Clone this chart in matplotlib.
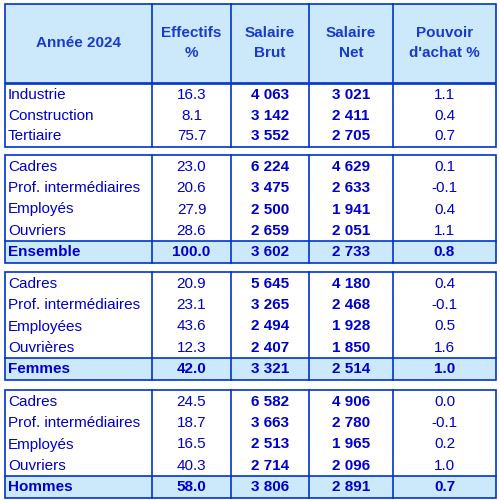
import matplotlib
matplotlib.use("Agg")
import matplotlib.pyplot as plt
from matplotlib.patches import Rectangle

plt.rcParams['font.family'] = ['Liberation Sans', 'DejaVu Sans']

headers = ["Année 2024", "Effectifs\n%", "Salaire\nBrut", "Salaire\nNet", "Pouvoir\nd'achat %"]
g1_labels = ["Industrie", "Construction", "Tertiaire"]
g1_eff = ["16.3", "8.1", "75.7"]
g1_brut = ["4 063", "3 142", "3 552"]
g1_net = ["3 021", "2 411", "2 705"]
g1_pa = ["1.1", "0.4", "0.7"]

g2_labels = ["Cadres", "Prof. intermédiaires", "Employés", "Ouvriers", "Ensemble"]
g2_eff = ["23.0", "20.6", "27.9", "28.6", "100.0"]
g2_brut = ["6 224", "3 475", "2 500", "2 659", "3 602"]
g2_net = ["4 629", "2 633", "1 941", "2 051", "2 733"]
g2_pa = ["0.1", "-0.1", "0.4", "1.1", "0.8"]

g3_labels = ["Cadres", "Prof. intermédiaires", "Employées", "Ouvrières", "Femmes"]
g3_eff = ["20.9", "23.1", "43.6", "12.3", "42.0"]
g3_brut = ["5 645", "3 265", "2 494", "2 407", "3 321"]
g3_net = ["4 180", "2 468", "1 928", "1 850", "2 514"]
g3_pa = ["0.4", "-0.1", "0.5", "1.6", "1.0"]

g4_labels = ["Cadres", "Prof. intermédiaires", "Employés", "Ouvriers", "Hommes"]
g4_eff = ["24.5", "18.7", "16.5", "40.3", "58.0"]
g4_brut = ["6 582", "3 663", "2 513", "2 714", "3 806"]
g4_net = ["4 906", "2 780", "1 965", "2 096", "2 891"]
g4_pa = ["0.0", "-0.1", "0.2", "1.0", "0.7"]

groups = [
    (g1_labels, g1_eff, g1_brut, g1_net, g1_pa, 84, 20.5, False),
    (g2_labels, g2_eff, g2_brut, g2_net, g2_pa, 155, 21.4, True),
    (g3_labels, g3_eff, g3_brut, g3_net, g3_pa, 272, 21.4, True),
    (g4_labels, g4_eff, g4_brut, g4_net, g4_pa, 390, 21.4, True),
]

BLUE = "#0000cc"
HEAD = "#1a3acc"
BG = "#cce9fc"
EDGE = "#0033cc"
cols = [5, 152, 231, 309, 393, 496]

fig = plt.figure(figsize=(5, 5), dpi=100)
ax = fig.add_axes([0, 0, 1, 1])
ax.set_xlim(0, 500)
ax.set_ylim(500, 0)
ax.axis("off")

def cell_lines(y0, y1, fill=None):
    if fill:
        ax.add_patch(Rectangle((cols[0], y0), cols[-1] - cols[0], y1 - y0, facecolor=fill, edgecolor="none", zorder=0))
    ax.add_patch(Rectangle((cols[0], y0), cols[-1] - cols[0], y1 - y0, facecolor="none", edgecolor=EDGE, lw=1.2, zorder=3))
    for x in cols[1:-1]:
        ax.plot([x, x], [y0, y1], color=EDGE, lw=1.2, zorder=3)

cell_lines(4, 83, BG)
for i, h in enumerate(headers):
    ax.text((cols[i] + cols[i + 1]) / 2, 43, h, ha="center", va="center", color=HEAD,
            fontsize=11, fontweight="bold", linespacing=1.6)

for labels, eff, brut, net, pa, y0, RH, has_total in groups:
    n = len(labels)
    y1 = y0 + n * RH + 1
    if has_total:
        ax.add_patch(Rectangle((cols[0], y0 + (n - 1) * RH), cols[-1] - cols[0], RH + 1, facecolor=BG, edgecolor="none", zorder=0))
        ax.plot([cols[0], cols[-1]], [y0 + (n - 1) * RH] * 2, color=EDGE, lw=1.2, zorder=3)
    cell_lines(y0, y1)
    for r in range(n):
        yc = y0 + r * RH + RH / 2 + 1
        tot = has_total and r == n - 1
        w = "bold" if tot else "normal"
        ax.text(cols[0] + 3, yc, labels[r], ha="left", va="center", color=BLUE, fontsize=11, fontweight=w)
        vals = [eff[r], brut[r], net[r], pa[r]]
        for j, v in enumerate(vals):
            wj = "bold" if (tot or j in (1, 2)) else "normal"
            ax.text((cols[j + 1] + cols[j + 2]) / 2, yc, v, ha="center", va="center", color=BLUE,
                    fontsize=11, fontweight=wj)

fig.savefig("out.png", dpi=100)
